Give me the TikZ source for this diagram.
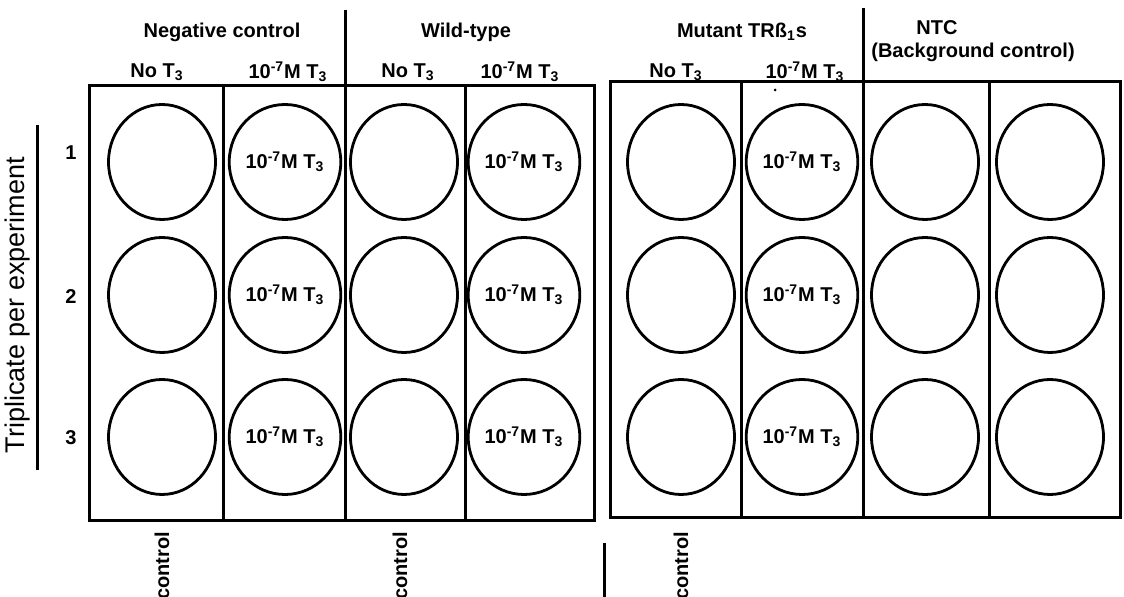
\documentclass[tikz,border=0pt]{standalone}
\usepackage{fontspec}
\setmainfont{Liberation Sans}
\usepackage{tikz}
\usetikzlibrary{shapes.geometric}
\newcommand{\dose}{10\textsuperscript{-7}M T\textsubscript{3}}
\newcommand{\noT}{No T\textsubscript{3}}

\begin{document}
\begin{tikzpicture}[x=0.5pt,y=-0.5pt,
  lbl/.style={font=\bfseries\fontsize{10}{12}\selectfont},
  well/.style={lbl,draw,ellipse,line width=1.4pt,inner sep=0pt,
    minimum width=53.5pt,minimum height=57.5pt},
  plate/.style={line width=1.5pt}]
\useasboundingbox (0,0) rectangle (1124,597);
% the two plates with their columns
\draw[plate] (89,86) rectangle (594,521);
\draw[plate] (223,86) -- (223,521) (465,86) -- (465,521);
\draw[plate] (345,10) -- (345,521);
\draw[plate] (610,82) rectangle (1120,518);
\draw[plate] (741,82) -- (741,518) (989,82) -- (989,518);
\draw[plate] (863,8) -- (863,518);
% wells, three rows
\foreach \r/\y in {1/162,2/295,3/437}
  \foreach \c/\x/\t in {a/162/{},b/285/\dose,c/404/{},d/524/\dose,
                        e/681/{},f/802/\dose,g/925/{},h/1050/{}}
    \node[well] (\c\r) at (\x,\y) {\t};
% column heads
\node[lbl] (neg) at (222,32) {Negative control};
\node[lbl] (wt) at (466,32) {Wild-type};
\node[lbl] (mut) at (742,32) {Mutant TRß\textsubscript{1}s};
\node[lbl] (ntc) at (937,28) {NTC};
\node[lbl] (bg) at (973,52) {(Background control)};
\node[lbl] (ha) at (157,72) {\noT};
\node[lbl] (hb) at (288,72) {\dose};
\node[lbl] (hc) at (408,72) {\noT};
\node[lbl] (hd) at (520,72) {\dose};
\node[lbl] (he) at (676,72) {\noT};
\node[lbl] (hf) at (805,72) {\dose};
\fill (775,90) circle (1.5);
% row numbers
\node[lbl] (r1) at (71,153) {1};
\node[lbl] (r2) at (71,297) {2};
\node[lbl] (r3) at (71,438) {3};
\draw[plate] (37,125) -- (37,470);
\node[rotate=90,font=\fontsize{13.5}{16}\selectfont] (trip) at (18,305) {Triplicate per experiment};
% controls below
\node[lbl,rotate=90,anchor=east] (k1) at (162,525) {control};
\node[lbl,rotate=90,anchor=east] (k2) at (400,525) {control};
\node[lbl,rotate=90,anchor=east] (k3) at (681,525) {control};
\draw[plate] (604,543) -- (604,597);
\end{tikzpicture}
\end{document}
